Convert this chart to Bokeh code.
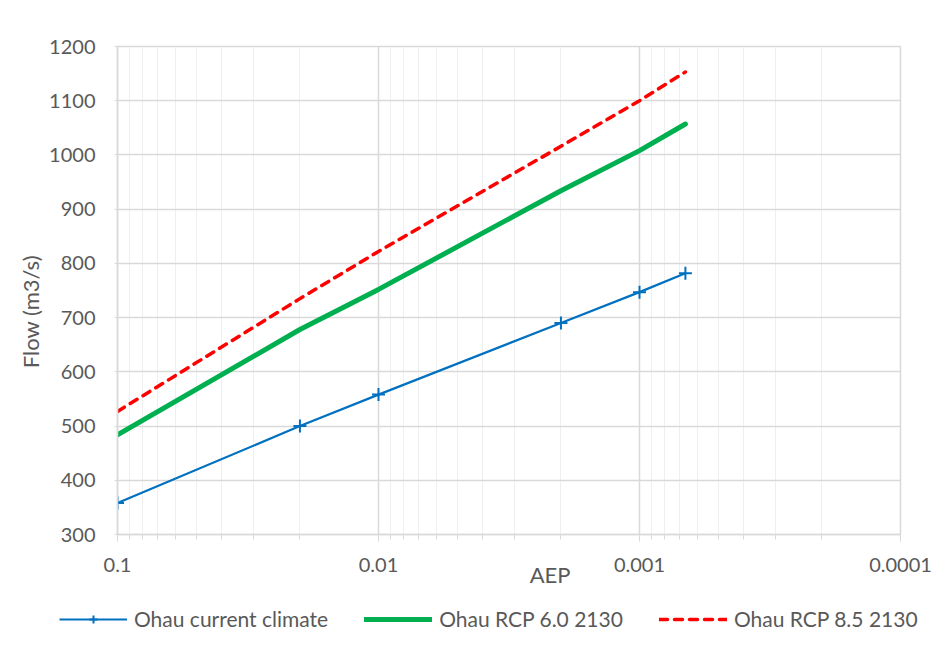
from bokeh.plotting import figure
from bokeh.models import (Range1d, FixedTicker, Legend, LegendItem, LogAxis, LinearAxis)
from bokeh.layouts import column
from bokeh.embed import file_html
from bokeh.resources import INLINE

# ---- data ----
aep = [0.1, 0.02, 0.01, 0.002, 0.001, 0.000667]
current = [358, 500, 558, 690, 747, 782]
rcp60 = [484, 678, 752, 934, 1008, 1057]
rcp85 = [527, 735, 822, 1016, 1100, 1153]
x_major = [0.1, 0.01, 0.001, 0.0001]
x_labels = ["0.1", "0.01", "0.001", "0.0001"]
y_ticks = [300, 400, 500, 600, 700, 800, 900, 1000, 1100, 1200]
series_names = ["Ohau current climate", "Ohau RCP 6.0 2130", "Ohau RCP 8.5 2130"]
x_title, y_title = "AEP", "Flow (m3/s)"
x_title_at = 0.0022   # position of the x title along the axis (off-centre, as in the reference)
y_title_at = 711      # position of the y title along the axis

FONT = "Lato"
TXT = "#595959"
GRID = "#d9d9d9"
COLORS = ["#0070C0", "#00B050", "#FF0000"]

W = 948
H1, H2 = 592, 63
p = figure(width=W, height=H1, x_axis_type="log",
           x_range=Range1d(0.1, 0.0001), y_range=Range1d(300, 1200),
           output_backend="svg", toolbar_location=None,
           min_border_left=117, min_border_right=48,
           min_border_top=46, min_border_bottom=H1 - 534)
p.frame_align = False
p.outline_line_color = GRID
p.outline_line_width = 1.5
p.background_fill_color = "white"
p.border_fill_color = "white"

minor = [m * d for d in [0.01, 0.001, 0.0001] for m in range(2, 10)]
p.xaxis.ticker = FixedTicker(ticks=x_major, minor_ticks=minor)
p.xaxis.major_label_overrides = {t: l for t, l in zip(x_major, x_labels)}
p.yaxis.ticker = FixedTicker(ticks=y_ticks)

for ax in (p.xaxis, p.yaxis):
    ax.axis_line_color = GRID
    ax.axis_line_width = 1.5
    ax.major_tick_line_color = GRID
    ax.minor_tick_line_color = GRID
    ax.major_label_text_font = FONT
    ax.major_label_text_font_size = "20px"
    ax.major_label_text_color = TXT

p.xaxis.major_tick_out = 7
p.xaxis.major_tick_in = 0
p.xaxis.minor_tick_out = 5
p.xaxis.minor_tick_in = 0
p.xaxis.major_label_standoff = 16
p.yaxis.major_tick_out = 3
p.yaxis.major_tick_in = 0
p.yaxis.minor_tick_out = 0
p.yaxis.minor_tick_in = 0
p.yaxis.major_label_standoff = 19

p.xgrid.grid_line_color = GRID
p.xgrid.grid_line_width = 1.5
p.xgrid.minor_grid_line_color = "#efefef"
p.xgrid.minor_grid_line_width = 1
p.ygrid.grid_line_color = GRID
p.ygrid.grid_line_width = 1.5

def draw(fig, xs, ys_list):
    a = fig.line(xs, ys_list[0], line_color=COLORS[0], line_width=2.2)
    b = fig.scatter(xs, ys_list[0], marker="cross", size=13, line_color=COLORS[0], line_width=2)
    c = fig.line(xs, ys_list[1], line_color=COLORS[1], line_width=5, line_cap="round")
    d = fig.line(xs, ys_list[2], line_color=COLORS[2], line_width=3.5, line_dash="8 7", line_cap="round")
    return [[a, b], [c], [d]]

draw(p, aep, [current, rcp60, rcp85])

def title_axis(kind, at, text, standoff, orient):
    return kind(ticker=FixedTicker(ticks=[at]), major_label_overrides={at: text},
                axis_line_alpha=0, major_tick_line_alpha=0, minor_tick_line_alpha=0,
                major_tick_out=0, major_tick_in=0, minor_tick_out=0, minor_tick_in=0,
                major_label_standoff=standoff, major_label_text_font=FONT,
                major_label_text_font_size="22px", major_label_text_color=TXT,
                major_label_orientation=orient)

p.add_layout(title_axis(LogAxis, x_title_at, x_title, -14, "horizontal"), "below")
p.add_layout(title_axis(LinearAxis, y_title_at, y_title, 2, "vertical"), "left")

# ---- legend strip (same series, drawn out of its view; only the legend shows) ----
q = figure(width=W, height=H2, x_range=Range1d(0, 1), y_range=Range1d(0, 1),
           output_backend="svg", toolbar_location=None,
           min_border_left=0, min_border_right=0, min_border_top=0, min_border_bottom=0)
q.frame_align = False
q.axis.visible = False
q.grid.visible = False
q.outline_line_color = None
q.background_fill_color = "white"
q.border_fill_color = "white"
rs = draw(q, aep, [current, rcp60, rcp85])
legend = Legend(items=[LegendItem(label=n, renderers=r) for n, r in zip(series_names, rs)],
                orientation="horizontal", location=(59, 24),
                glyph_width=68, glyph_height=20, label_standoff=7, spacing=36,
                padding=0, margin=0, border_line_alpha=0, background_fill_alpha=0,
                label_text_font=FONT, label_text_font_size="21px",
                label_text_color=TXT, label_height=20)
q.add_layout(legend, "center")

layout = column(p, q, spacing=0)
open("out.html", "w").write(file_html(layout, INLINE))
